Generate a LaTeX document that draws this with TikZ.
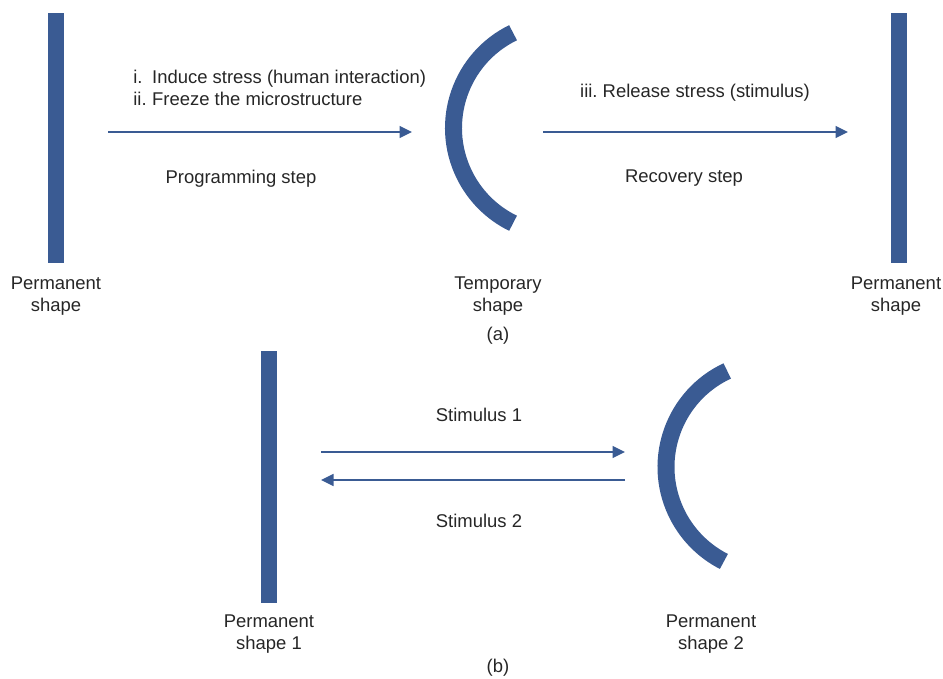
\documentclass[tikz,border=0pt]{standalone}
\usepackage{fontspec}
\setmainfont{Liberation Sans}
\usepackage{xcolor}
\usetikzlibrary{arrows.meta,positioning}
\definecolor{smpblue}{HTML}{3A5B93}
\definecolor{smptext}{HTML}{262626}
\frenchspacing

\begin{document}
\begin{tikzpicture}[
    bar/.style={shape=rectangle, fill=smpblue, inner sep=0pt, minimum width=0.32cm, minimum height=5cm},
    curvebar/.style={draw=smpblue, line width=0.34cm},
    flow/.style={draw=smpblue, line width=0.8pt, -{Triangle[length=0.25cm,width=0.24cm]}},
    lbl/.style={text=smptext, align=center, inner sep=0pt, font=\fontsize{10.5}{12.5}\selectfont}]
    \useasboundingbox (0,0) rectangle (18.86,13.56);

    % (a) shape memory cycle
    \node[bar] (perma) at (1.12,10.80) {};
    \node[lbl] (permalbl) at (1.12,7.63) {Permanent\\shape};

    \coordinate (progs) at (2.16,10.92);
    \coordinate (proge) at (8.24,10.92);
    \draw[flow] (progs) -- (proge);
    \node[lbl, anchor=west] (progtxt) at (2.66,11.75) {\begin{tabular}{@{}l@{\hspace{0.3em}}l@{}}i. & Induce stress (human interaction)\\ii. & Freeze the microstructure\end{tabular}};
    \node[lbl] (proglbl) at (4.82,9.99) {Programming step};

    \draw[curvebar] ([shift={(116:2.12)}]11.19,11.00) arc[start angle=116, end angle=244, radius=2.12];
    \node[lbl] (templbl) at (9.96,7.63) {Temporary\\shape};
    \node[lbl] (capa) at (9.96,6.84) {(a)};

    \coordinate (recs) at (10.86,10.92);
    \coordinate (rece) at (16.96,10.92);
    \draw[flow] (recs) -- (rece);
    \node[lbl] (rectxt) at (13.90,11.71) {iii. Release stress (stimulus)};
    \node[lbl] (reclbl) at (13.68,9.99) {Recovery step};

    \node[bar] (permb) at (17.98,10.80) {};
    \node[lbl] (permblbl) at (17.92,7.63) {Permanent\\shape};

    % (b) two-way cycle
    \node[bar, minimum height=5.04cm] (perm1) at (5.38,4.02) {};
    \node[lbl] (perm1lbl) at (5.38,0.87) {Permanent\\shape 1};

    \coordinate (st1s) at (6.42,4.52);
    \coordinate (st1e) at (12.50,4.52);
    \coordinate (st2s) at (12.50,3.96);
    \coordinate (st2e) at (6.42,3.96);
    \draw[flow] (st1s) -- (st1e);
    \draw[flow] (st2s) -- (st2e);
    \node[lbl] (st1lbl) at (9.58,5.27) {Stimulus 1};
    \node[lbl] (st2lbl) at (9.58,3.15) {Stimulus 2};

    \draw[curvebar] ([shift={(115:2.12)}]15.44,4.22) arc[start angle=115, end angle=243, radius=2.12];
    \node[lbl] (perm2lbl) at (14.22,0.87) {Permanent\\shape 2};
    \node[lbl] (capb) at (9.96,0.21) {(b)};
\end{tikzpicture}
\end{document}
